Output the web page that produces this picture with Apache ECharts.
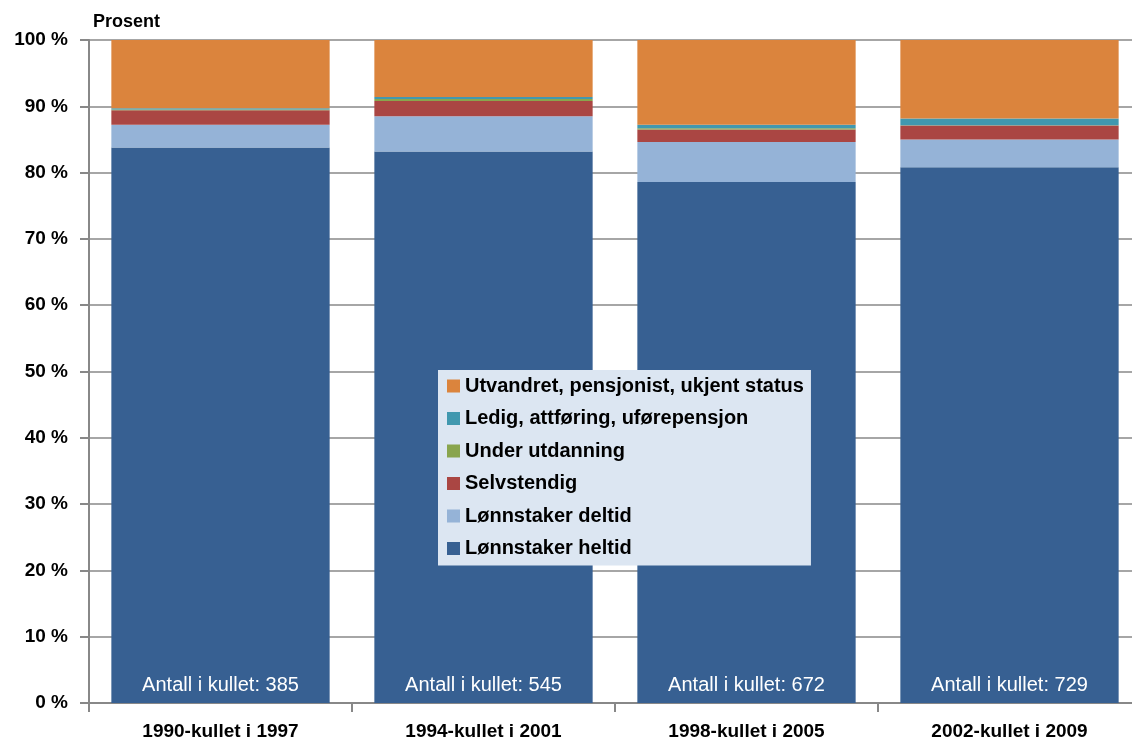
<!DOCTYPE html>
<html>
<head>
<meta charset="utf-8">
<script src="https://cdn.jsdelivr.net/npm/echarts@6/dist/echarts.min.js"></script>
<style>
  html, body { margin: 0; padding: 0; background: #fff; overflow: hidden; }
  #chart { width: 1145px; height: 743px; }
</style>
</head>
<body>
<div id="chart"></div>
<script>
// kull og data (prosent)
const categories = ['1990-kullet i 1997', '1994-kullet i 2001', '1998-kullet i 2005', '2002-kullet i 2009'];
const antall = [385, 545, 672, 729];
const heltid = [83.8, 83.2, 78.6, 80.8];
const deltid = [3.4, 5.3, 6.0, 4.2];
const selvstendig = [2.2, 2.3, 1.9, 2.1];
const utdanning = [0.1, 0.3, 0.2, 0.05];
const ledig = [0.2, 0.3, 0.5, 1.0];
const utvandret = [10.3, 8.6, 12.8, 11.85];
const yTicks = [0, 10, 20, 30, 40, 50, 60, 70, 80, 90, 100];

const fontFam = 'Liberation Sans, Arial, sans-serif';
const chart = echarts.init(document.getElementById('chart'));

function serie(name, data, color) {
  return {
    name: name,
    type: 'bar',
    stack: 'total',
    data: data,
    barCategoryGap: '17%',
    itemStyle: { color: color },
    emphasis: { disabled: true }
  };
}

const heltidSerie = serie('Lønnstaker heltid', heltid, '#376092');
heltidSerie.label = {
  show: true,
  position: 'insideBottom',
  distance: 8,
  color: '#fff',
  fontSize: 20,
  fontFamily: fontFam,
  formatter: p => 'Antall i kullet: ' + antall[p.dataIndex]
};

const option = {
  animation: false,
  grid: { left: 89, top: 40, width: 1052, height: 663, containLabel: false },
  graphic: [{
    type: 'text', left: 93, top: 13,
    style: { text: 'Prosent', font: 'bold 18px ' + fontFam, fill: '#000' }
  }],
  legend: {
    orient: 'vertical',
    left: 438, top: 370,
    padding: [6, 7, 7, 9],
    backgroundColor: '#dce6f2',
    itemWidth: 13, itemHeight: 13, itemGap: 12.5,
    icon: 'rect',
    textStyle: { fontSize: 20, lineHeight: 20, fontWeight: 'bold', fontFamily: fontFam, color: '#000' },
    data: ['Utvandret, pensjonist, ukjent status', 'Ledig, attføring, uførepensjon',
      'Under utdanning', 'Selvstendig', 'Lønnstaker deltid', 'Lønnstaker heltid']
  },
  xAxis: {
    type: 'category',
    data: categories,
    axisLine: { lineStyle: { color: '#888', width: 2 } },
    axisTick: { show: true, length: 9, lineStyle: { color: '#888', width: 2 } },
    axisLabel: { fontSize: 19, fontWeight: 'bold', fontFamily: fontFam, color: '#000', margin: 19 }
  },
  yAxis: {
    type: 'value',
    min: 0, max: 100, interval: 10,
    axisLine: { show: true, lineStyle: { color: '#888', width: 2 } },
    axisTick: { show: true, length: 9, lineStyle: { color: '#888', width: 2 } },
    splitLine: { lineStyle: { color: '#a6a6a6', width: 2 } },
    axisLabel: {
      fontSize: 19, fontWeight: 'bold', fontFamily: fontFam, color: '#000', margin: 21,
      formatter: v => yTicks.includes(v) ? v + ' %' : ''
    }
  },
  series: [
    heltidSerie,
    serie('Lønnstaker deltid', deltid, '#95b3d7'),
    serie('Selvstendig', selvstendig, '#aa4643'),
    serie('Under utdanning', utdanning, '#89a54e'),
    serie('Ledig, attføring, uførepensjon', ledig, '#4198af'),
    serie('Utvandret, pensjonist, ukjent status', utvandret, '#db843d')
  ]
};

chart.setOption(option);
</script>
</body>
</html>
